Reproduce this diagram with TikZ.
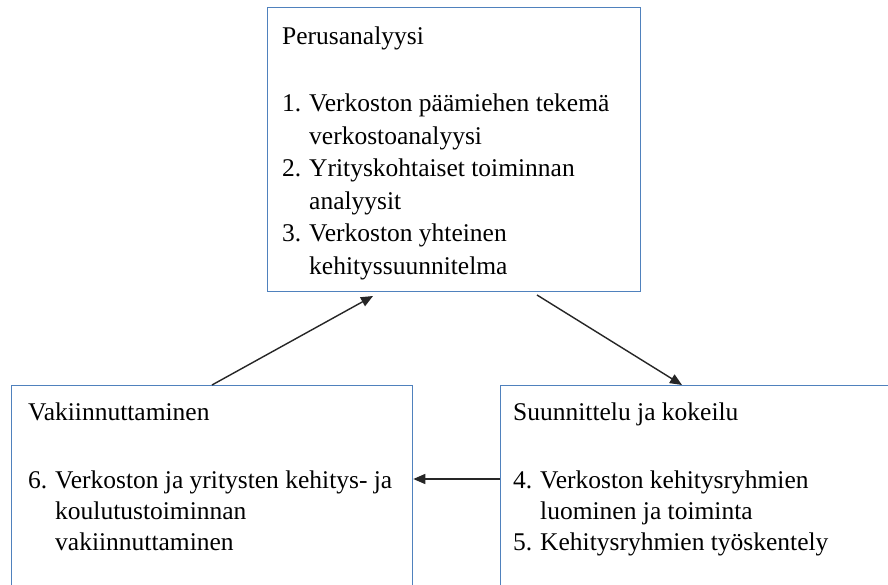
\documentclass[tikz,border=0pt]{standalone}
\usepackage{fontspec}
\setmainfont{Liberation Serif}
\usetikzlibrary{arrows.meta}

\definecolor{boxline}{RGB}{79,129,189}

% list number with a hanging indent, and the indent of a wrapped line
\newcommand{\itemno}[1]{\makebox[27pt][l]{#1}}
\newcommand{\wrapin}{\hspace*{27pt}}
% lines stacked from the first baseline downwards
\newenvironment{stagelist}{\begin{minipage}[t]{520pt}\raggedright}{\end{minipage}}

\tikzset{
  stage/.style={draw=boxline, line width=1.3pt, rectangle, inner sep=0pt},
  txt/.style={anchor=base west, inner sep=0pt,
    font=\fontsize{25.5}{32.5}\selectfont},
  txtb/.style={txt, font=\fontsize{25.5}{31}\selectfont},
  flow/.style={draw=black!85, line width=1.4pt,
    -{Triangle[length=12pt,width=10pt]}}
}

\begin{document}
\begin{tikzpicture}[x=1pt,y=-1pt]
  \useasboundingbox (0,0) rectangle (888,585);
  \clip (0,0) rectangle (888,585);
  \fill[white] (0,0) rectangle (888,585);

  % three stage boxes
  \node[stage, minimum width=373pt, minimum height=284pt, anchor=north west] (perus) at (267,7) {};
  \node[stage, minimum width=401pt, minimum height=230pt, anchor=north west] (vakiin) at (11,385) {};
  \node[stage, minimum width=400pt, minimum height=230pt, anchor=north west] (suunn) at (500,385) {};

  % texts
  \node[txt] (perusH) at (282,45) {Perusanalyysi};
  \node[txt] (perusL) at (282,112) {\begin{stagelist}
    \itemno{1.}Verkoston päämiehen tekemä\\
    \wrapin verkostoanalyysi\\
    \itemno{2.}Yrityskohtaiset toiminnan\\
    \wrapin analyysit\\
    \itemno{3.}Verkoston yhteinen\\
    \wrapin kehityssuunnitelma
  \end{stagelist}};

  \node[txtb] (vakiinH) at (28,420) {Vakiinnuttaminen};
  \node[txtb] (vakiinL) at (28,488) {\begin{stagelist}
    \itemno{6.}Verkoston ja yritysten kehitys- ja\\
    \wrapin koulutustoiminnan\\
    \wrapin vakiinnuttaminen
  \end{stagelist}};

  \node[txtb] (suunnH) at (513,420) {Suunnittelu ja kokeilu};
  \node[txtb] (suunnL) at (513,488) {\begin{stagelist}
    \itemno{4.}Verkoston kehitysryhmien\\
    \wrapin luominen ja toiminta\\
    \itemno{5.}Kehitysryhmien työskentely
  \end{stagelist}};

  % connector end points on the box edges
  \coordinate (upTail)    at (vakiin.north west -| 212,0);
  \coordinate (upHead)    at (373,296);
  \coordinate (downTail)  at (537,295);
  \coordinate (downHead)  at (suunn.north west -| 682,0);
  \coordinate (backTail)  at (suunn.west |- 0,479);
  \coordinate (backHead)  at (vakiin.east |- 0,479);

  \draw[flow] (upTail) -- (upHead);
  \draw[flow] (downTail) -- (downHead);
  \draw[flow] (backTail) -- (backHead);
\end{tikzpicture}
\end{document}
